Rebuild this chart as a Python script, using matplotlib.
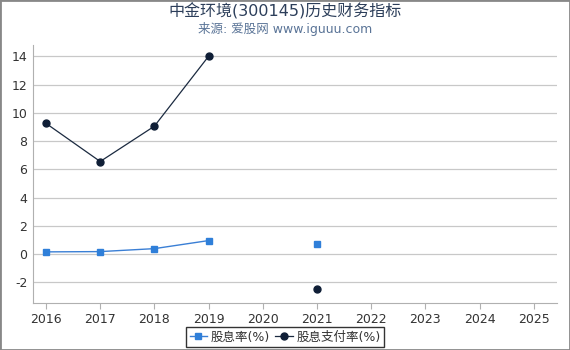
import matplotlib
matplotlib.use("Agg")
import matplotlib.pyplot as plt
import numpy as np

plt.rcParams['font.family'] = ['DejaVu Sans', 'Noto Sans CJK SC']
plt.rcParams['axes.unicode_minus'] = False

years = [2016, 2017, 2018, 2019, 2020, 2021, 2022, 2023, 2024, 2025]
dividend_yield = [0.15, 0.17, 0.38, 0.95, np.nan, 0.72, np.nan, np.nan, np.nan, np.nan]
payout_ratio = [9.25, 6.55, 9.05, 14.0, np.nan, -2.45, np.nan, np.nan, np.nan, np.nan]
yticks = [-2, 0, 2, 4, 6, 8, 10, 12, 14]

fig = plt.figure(figsize=(5.7, 3.5), dpi=100)
ax = fig.add_axes([33/570, 1-303/350, (557-33)/570, (303-45)/350])

ax.plot(years, dividend_yield, color='#3a7fd5', lw=1, marker='s', ms=5,
        markerfacecolor='#2f7fd9', markeredgecolor='#2f7fd9', label='股息率(%)')
ax.plot(years, payout_ratio, color='#1b2a40', lw=0.9, marker='o', ms=5,
        markerfacecolor='#0f1e36', markeredgecolor='#0f1e36', label='股息支付率(%)')

ax.set_xlim(2015.76, 2025.43)
ax.set_ylim(-3.47, 14.8)
ax.set_xticks(years)
ax.set_yticks(yticks)
ax.grid(axis='y', color='#c8c8c8', lw=0.9)
ax.set_axisbelow(True)
for s in ['top', 'right']:
    ax.spines[s].set_visible(False)
for s in ['left', 'bottom']:
    ax.spines[s].set_color('#b0b0b0')
ax.tick_params(axis='both', colors='#b0b0b0', labelcolor='#333333', labelsize=9)
ax.tick_params(axis='y', length=0, pad=4)
ax.tick_params(axis='x', length=4)

fig.text(0.5, 1-11/350, '中金环境(300145)历史财务指标', ha='center', va='center',
         fontsize=11.5, color='#2c3e5a')
fig.text(0.5, 1-29/350, '来源: 爱股网 www.iguuu.com', ha='center', va='center',
         fontsize=9, color='#5a7497')

leg = fig.legend(loc='center', bbox_to_anchor=(285/570, 1-337/350), ncol=2,
                 fontsize=9, frameon=True, fancybox=False, handlelength=1.4,
                 handletextpad=0.3, columnspacing=0.4, borderpad=0.3)
leg.get_frame().set_edgecolor('black')
leg.get_frame().set_linewidth(1)
for t in leg.get_texts():
    t.set_color('#333333')

fig.add_artist(plt.Rectangle((0, 0), 1, 1, transform=fig.transFigure, fill=False,
                             edgecolor='#888888', lw=2))

fig.savefig('out.png', dpi=100)
